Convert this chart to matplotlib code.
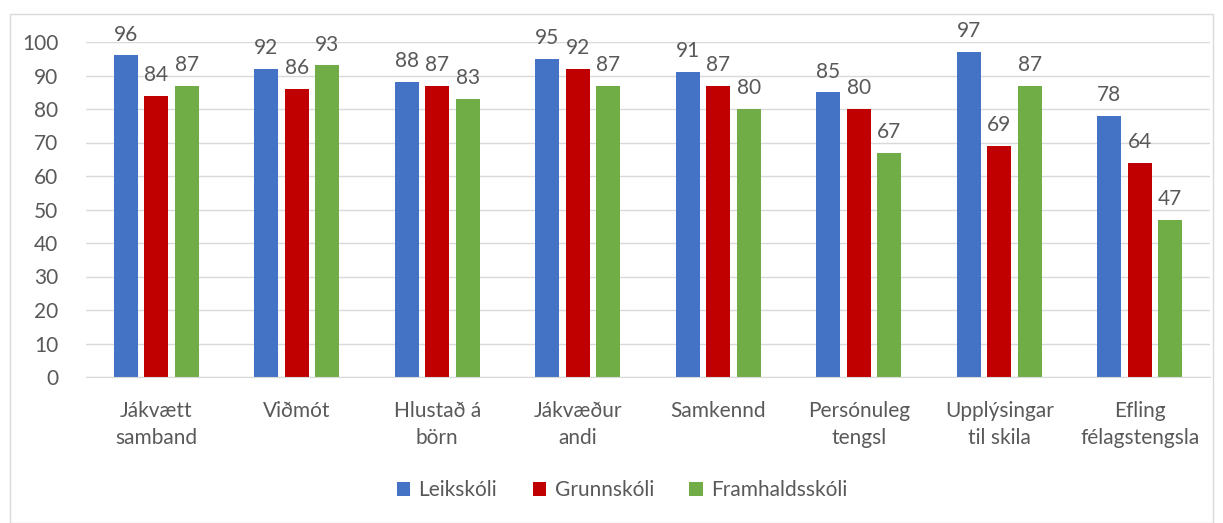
import numpy as np
import matplotlib.pyplot as plt
from matplotlib.patches import Rectangle

categories = ["Jákvætt\nsamband", "Viðmót", "Hlustað á\nbörn", "Jákvæður\nandi",
              "Samkennd", "Persónuleg\ntengsl", "Upplýsingar\ntil skila", "Efling\nfélagstengsla"]
series_names = ["Leikskóli", "Grunnskóli", "Framhaldsskóli"]
leikskoli = [96, 92, 88, 95, 91, 85, 97, 78]
grunnskoli = [84, 86, 87, 92, 87, 80, 69, 64]
framhaldsskoli = [87, 93, 83, 87, 80, 67, 87, 47]
colors = ["#4472C4", "#C00000", "#70AD47"]

plt.rcParams['font.family'] = ['Lato', 'DejaVu Sans']
txt = "#595959"
fs = 15

fig = plt.figure(figsize=(12.23, 5.23), dpi=100)
ax = fig.add_axes([86 / 1223, 1 - 377 / 523, 1124 / 1223, 335 / 523])
fig.patches.append(Rectangle((10 / 1223, 0), 1203 / 1223, 1 - 14 / 523, transform=fig.transFigure,
                             fill=False, edgecolor="#d9d9d9", linewidth=1))

x = np.arange(len(categories))
w = 0.172
offs = [-0.218, 0, 0.218]
for vals, off, c, name in zip([leikskoli, grunnskoli, framhaldsskoli], offs, colors, series_names):
    bars = ax.bar(x + off, vals, w, color=c, label=name, zorder=3)
    for b, v in zip(bars, vals):
        ax.text(b.get_x() + b.get_width() / 2, v + 3.2, str(v), ha="center", va="bottom",
                fontsize=fs, color=txt)

ax.set_xlim(-0.5, len(categories) - 0.5)
ax.set_ylim(0, 100)
ax.set_yticks(range(0, 101, 10))
ax.set_xticks(x)
ax.set_xticklabels(categories, fontsize=fs, color=txt, linespacing=1.45)
ax.tick_params(axis="y", labelsize=fs, colors=txt, length=0, pad=20)
ax.tick_params(axis="x", length=0, pad=17)
ax.grid(axis="y", color="#d9d9d9", linewidth=1, zorder=0)
for s in ["top", "right", "left"]:
    ax.spines[s].set_visible(False)
ax.spines["bottom"].set_color("#d9d9d9")
ax.spines["bottom"].set_zorder(4)

leg = fig.legend(loc="center", bbox_to_anchor=(622 / 1223, 1 - 490 / 523), ncol=3, frameon=False,
                 fontsize=fs, handlelength=0.65, handleheight=0.65, columnspacing=1.7, handletextpad=0.4)
for t in leg.get_texts():
    t.set_color(txt)

fig.savefig("out.png", dpi=100)
